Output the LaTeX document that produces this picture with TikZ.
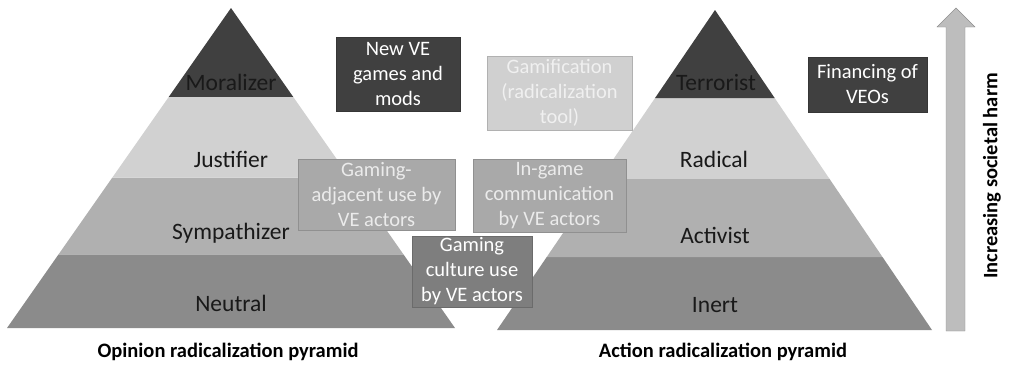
\documentclass[tikz,border=0pt]{standalone}
\usepackage{fontspec}
\setmainfont{Carlito}
\usetikzlibrary{positioning,calc}
\definecolor{tierA}{HTML}{404040}
\definecolor{tierB}{HTML}{D1D1D1}
\definecolor{tierC}{HTML}{B0B0B0}
\definecolor{tierD}{HTML}{8B8B8B}
\definecolor{boxdark}{HTML}{404040}
\definecolor{boxlight}{HTML}{D0D0D0}
\definecolor{boxmid}{HTML}{A9A9A9}
\definecolor{boxdeep}{HTML}{7E7E7E}
\definecolor{harm}{HTML}{BDBDBD}
\tikzset{%
  tier/.style = {
    fill = #1,
  },
  tlabel/.style = {
    font = \fontsize{23.5}{27}\selectfont,
    text = black!90,
  },
  ebox/.style = {
    fill = #1,
    draw = #1!85!black,
    align = center,
    inner sep = 0pt,
    font = \fontsize{20.5}{25}\selectfont,
    text = white,
  },
  caption/.style = {
    font = \fontsize{20.5}{24}\selectfont\bfseries,
  },
}

\begin{document}
\begin{tikzpicture}[x=1pt, y=-1pt]
\useasboundingbox (0,0) rectangle (1021,368);

% opinion pyramid
\coordinate (oA) at (231,8);
\coordinate (oL) at (7,328);
\coordinate (oR) at (455,328);
\fill[tier=tierD] (oL) -- (oR) -- ($(oA)!0.77!(oR)$) -- ($(oA)!0.77!(oL)$) -- cycle;
\fill[tier=tierC] ($(oA)!0.77!(oL)$) -- ($(oA)!0.77!(oR)$) -- ($(oA)!0.53!(oR)$) -- ($(oA)!0.53!(oL)$) -- cycle;
\fill[tier=tierB] ($(oA)!0.53!(oL)$) -- ($(oA)!0.53!(oR)$) -- ($(oA)!0.278!(oR)$) -- ($(oA)!0.278!(oL)$) -- cycle;
\fill[tier=tierA] (oA) -- ($(oA)!0.278!(oR)$) -- ($(oA)!0.278!(oL)$) -- cycle;

% action pyramid
\coordinate (aA) at (715,10);
\coordinate (aL) at (497,330);
\coordinate (aR) at (932,330);
\fill[tier=tierD] (aL) -- (aR) -- ($(aA)!0.772!(aR)$) -- ($(aA)!0.772!(aL)$) -- cycle;
\fill[tier=tierC] ($(aA)!0.772!(aL)$) -- ($(aA)!0.772!(aR)$) -- ($(aA)!0.528!(aR)$) -- ($(aA)!0.528!(aL)$) -- cycle;
\fill[tier=tierB] ($(aA)!0.528!(aL)$) -- ($(aA)!0.528!(aR)$) -- ($(aA)!0.275!(aR)$) -- ($(aA)!0.275!(aL)$) -- cycle;
\fill[tier=tierA] (aA) -- ($(aA)!0.275!(aR)$) -- ($(aA)!0.275!(aL)$) -- cycle;

\node(moral) [tlabel] at (231,82)  {Moralizer};
\node(justi) [tlabel] at (231,159) {Justifier};
\node(sympa) [tlabel] at (231,233) {Sympathizer};
\node(neutr) [tlabel] at (231,303) {Neutral};
\node(terro) [tlabel] at (716,82)  {Terrorist};
\node(radic) [tlabel] at (714,159) {Radical};
\node(activ) [tlabel] at (715,235) {Activist};
\node(inert) [tlabel] at (715,305) {Inert};

% uses of gaming
\node(newve) [ebox=boxdark, minimum width=124, minimum height=74] at (398,74)
  {New VE\\games and\\mods};
\node(gamif) [ebox=boxlight, text=white!94!black, minimum width=145, minimum height=74] at (559.5,93)
  {Gamification\\(radicalization\\tool)};
\node(adjac) [ebox=boxmid, text=white!92!black, minimum width=157, minimum height=71] at (376.5,194.5)
  {Gaming-\\adjacent use by\\VE actors};
\node(ingame) [ebox=boxmid, text=white!92!black, minimum width=153, minimum height=73] at (549.5,195.5)
  {In-game\\communication\\by VE actors};
\node(cultur) [ebox=boxdeep, minimum width=120, minimum height=71] at (472,271.5)
  {Gaming\\culture use\\by VE actors};
\node(finan) [ebox=boxdark, minimum width=119, minimum height=55] at (867.5,84.5)
  {Financing of\\VEOs};

% harm arrow
\draw[fill=harm, draw=harm!75!black] (946,331) -- (946,27) -- (937,27) -- (956,8)
  -- (975,27) -- (965,27) -- (965,331) -- cycle;
\node(harmlbl) [caption, rotate=90] at (992,176) {Increasing societal harm};

\node(ocap) [caption] at (228,352) {Opinion radicalization pyramid};
\node(acap) [caption] at (723,352) {Action radicalization pyramid};
\end{tikzpicture}
\end{document}
